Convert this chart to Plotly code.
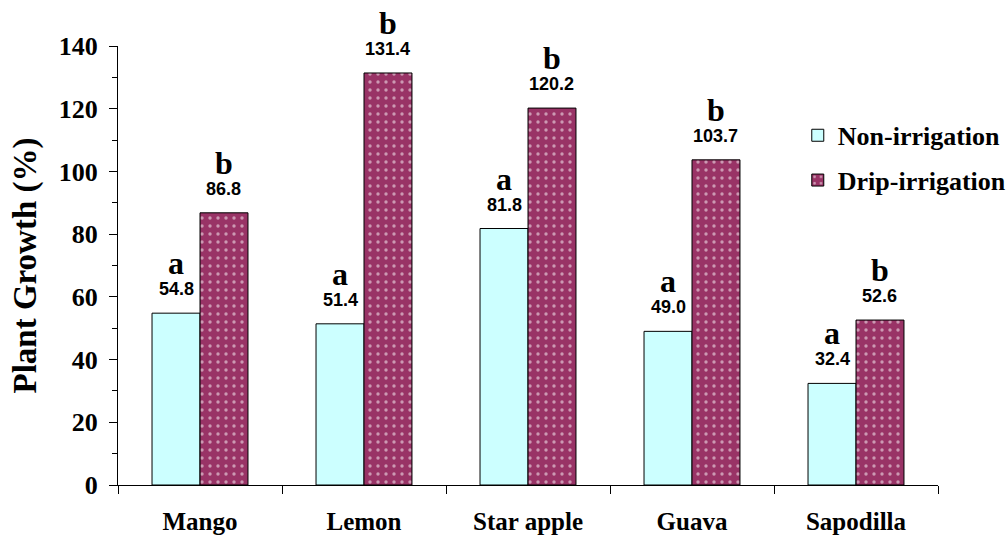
import plotly.graph_objects as go

crops = ["Mango", "Lemon", "Star apple", "Guava", "Sapodilla"]
non_irrigation = [54.8, 51.4, 81.8, 49.0, 32.4]
drip_irrigation = [86.8, 131.4, 120.2, 103.7, 52.6]
non_letters = ["a", "a", "a", "a", "a"]
drip_letters = ["b", "b", "b", "b", "b"]
y_ticks = [0, 20, 40, 60, 80, 100, 120, 140]

SERIF = "Liberation Serif"
SANS = "Liberation Sans"
BAR_OFFSET = 0.146  # half of a bar's width, in category units

fig = go.Figure()
fig.add_trace(go.Bar(
    name="<b>Non-irrigation</b>", x=crops, y=non_irrigation,
    marker=dict(color="#CCFFFF", line=dict(color="black", width=1)),
    legendgroup="n",
))
fig.add_trace(go.Bar(
    name="<b>Drip-irrigation</b>", x=crops, y=drip_irrigation,
    marker=dict(color="#993366", line=dict(color="black", width=1),
                pattern=dict(shape=".", fgcolor="white", bgcolor="#993366",
                             size=8, solidity=0.14)),
    legendgroup="d",
))

ann = []
for i, c in enumerate(crops):
    for vals, letters, sign in ((non_irrigation, non_letters, -1),
                                (drip_irrigation, drip_letters, 1)):
        v = vals[i]
        ann.append(dict(x=i + sign * BAR_OFFSET, y=v, xref="x", yref="y",
                        text=f"<b>{v:.1f}</b>", showarrow=False,
                        yanchor="bottom", yshift=13, borderpad=0,
                        font=dict(family=SANS, size=18, color="black")))
        ann.append(dict(x=i + sign * BAR_OFFSET, y=v, xref="x", yref="y",
                        text=f"<b>{letters[i]}</b>", showarrow=False,
                        yanchor="bottom", yshift=31, borderpad=0,
                        font=dict(family=SERIF, size=32, color="black")))

fig.update_layout(
    width=1008, height=538,
    margin=dict(l=118, r=70, t=46, b=53, autoexpand=False),
    paper_bgcolor="white", plot_bgcolor="white",
    barmode="group", bargap=0.415, bargroupgap=0,
    showlegend=True,
    legend=dict(x=0.829, y=0.85, xanchor="left", yanchor="top",
                font=dict(family=SERIF, size=26, color="black"),
                traceorder="grouped", tracegroupgap=8,
                bgcolor="rgba(0,0,0,0)"),
    annotations=ann,
    font=dict(family=SERIF, color="black"),
)
fig.update_xaxes(
    type="category", showline=True, linecolor="black", linewidth=1,
    automargin=False,
    ticks="outside", tickson="boundaries", ticklen=8, tickcolor="black",
    tickfont=dict(family=SERIF, size=25, color="black"),
    ticklabelstandoff=14, showgrid=False,
    tickvals=crops, ticktext=[f"<b>{c}</b>" for c in crops],
)
fig.update_yaxes(
    range=[0, 140], showline=True, linecolor="black",
    linewidth=1, automargin=False,
    ticks="outside", ticklen=8, tickcolor="black",
    minor=dict(ticks="outside", ticklen=5, dtick=10, tick0=0, tickcolor="black"),
    tickfont=dict(family=SERIF, size=26, color="black"),
    tickvals=y_ticks, ticktext=[f"<b>{t}</b>" for t in y_ticks],
    ticklabelstandoff=6, showgrid=False, zeroline=False,
    title=dict(text="<b>Plant Growth (%)</b>",
               font=dict(family=SERIF, size=33, color="black"), standoff=12),
)

fig.write_html("out.html")
